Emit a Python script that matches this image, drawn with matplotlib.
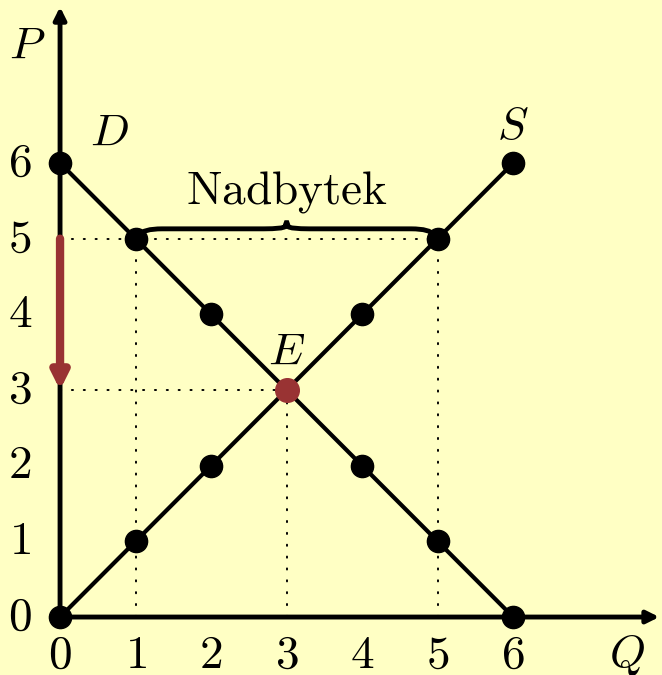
import numpy as np
import matplotlib.pyplot as plt
from matplotlib.path import Path
from matplotlib.patches import PathPatch, FancyArrowPatch

plt.rcParams['mathtext.fontset'] = 'cm'
plt.rcParams['font.family'] = 'DejaVu Serif'

bg = '#ffffc4'
red = '#993333'

# demand and supply
q = [0, 1, 2, 3, 4, 5, 6]
p_demand = [6, 5, 4, 3, 2, 1, 0]
p_supply = [0, 1, 2, 3, 4, 5, 6]
dot_q = [0, 1, 2, 4, 5, 6]
dot_demand = [6, 5, 4, 2, 1, 0]
dot_supply = [0, 1, 2, 4, 5, 6]
eq_q, eq_p = 3, 3
surplus_price = 5
ticks = [0, 1, 2, 3, 4, 5, 6]

fig = plt.figure(figsize=(6.62, 6.75), dpi=100, facecolor=bg)
ax = fig.add_axes([0, 0, 1, 1])
ax.set_facecolor(bg)
ax.set_xlim(-0.795, 7.97)
ax.set_ylim(-0.766, 8.154)
ax.axis('off')

# guide lines
dot = dict(color='black', lw=1.4, linestyle=(0, (0.6, 5.5)), dash_capstyle='round')
ax.plot([0, 5], [5, 5], **dot)
ax.plot([0, 3], [3, 3], **dot)
ax.plot([1, 1], [0, 5], **dot)
ax.plot([3, 3], [0, 3], **dot)
ax.plot([5, 5], [0, 5], **dot)

# axes with arrows
ax.annotate('', xy=(7.97, 0), xytext=(0, 0),
            arrowprops=dict(arrowstyle='-|>', lw=3.5, color='black', mutation_scale=18))
ax.annotate('', xy=(0, 8.1), xytext=(0, 0),
            arrowprops=dict(arrowstyle='-|>', lw=3.5, color='black', mutation_scale=18))

ax.plot(q, p_demand, color='black', lw=3, solid_capstyle='round')
ax.plot(q, p_supply, color='black', lw=3, solid_capstyle='round')
ax.plot(dot_q, dot_demand, 'o', color='black', ms=16, ls='none')
ax.plot(dot_q, dot_supply, 'o', color='black', ms=16, ls='none')
ax.plot([eq_q], [eq_p], 'o', color=red, ms=17, zorder=5)

# price drop arrow
ax.add_patch(FancyArrowPatch((0, surplus_price), (0, eq_p), arrowstyle='-|>',
                             mutation_scale=24, lw=6, color=red,
                             capstyle='round', zorder=6, shrinkA=0, shrinkB=0))

# curly brace
y0, h = 5.13, 0.14
x0, x1 = 1, 5
xm = (x0 + x1) / 2
verts = [(x0 + 0.05, surplus_price + 0.05), (x0 + 0.1, y0), (x0 + 0.35, y0),
         (xm - 0.3, y0),
         (xm - 0.05, y0), (xm - 0.02, y0 + 0.03), (xm, y0 + h),
         (xm + 0.02, y0 + 0.03), (xm + 0.05, y0), (xm + 0.3, y0),
         (x1 - 0.35, y0),
         (x1 - 0.1, y0), (x1 - 0.05, surplus_price + 0.05)]
codes = [Path.MOVETO, Path.CURVE3, Path.CURVE3, Path.LINETO,
         Path.CURVE3, Path.CURVE3, Path.CURVE3, Path.CURVE3, Path.CURVE3, Path.CURVE3,
         Path.LINETO, Path.CURVE3, Path.CURVE3]
ax.add_patch(PathPatch(Path(verts, codes), fill=False, lw=3.5, color='black'))
ax.text(xm, 5.62, r'$\mathrm{Nadbytek}$', fontsize=34, ha='center', va='center')

# tick labels
for t in ticks:
    ax.text(t, -0.5, f'${t}$', fontsize=34, ha='center', va='center')
    ax.text(-0.53, t, f'${t}$', fontsize=34, ha='center', va='center')

ax.text(-0.44, 7.55, r'$P$', fontsize=33, ha='center', va='center')
ax.text(7.5, -0.5, r'$Q$', fontsize=33, ha='center', va='center')
ax.text(0.65, 6.4, r'$D$', fontsize=33, ha='center', va='center')
ax.text(6.0, 6.48, r'$S$', fontsize=33, ha='center', va='center')
ax.text(3.0, 3.5, r'$E$', fontsize=33, ha='center', va='center')

fig.savefig('out.png', dpi=100, facecolor=bg)
